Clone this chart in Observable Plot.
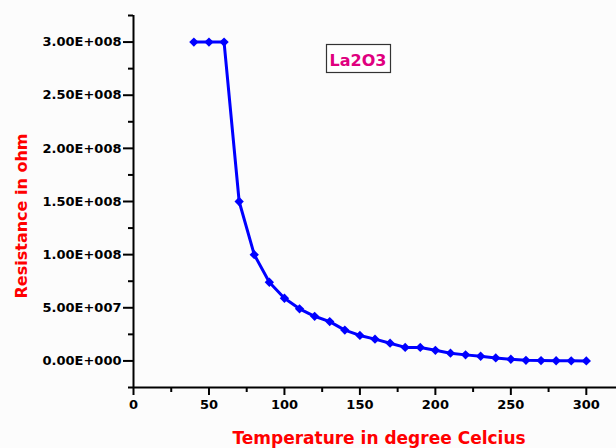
<!DOCTYPE html>
<html><head><meta charset="utf-8">
<script src="https://cdn.jsdelivr.net/npm/d3@7"></script>
<script src="https://cdn.jsdelivr.net/npm/@observablehq/plot@0.6"></script>
<style>
html,body{margin:0;padding:0;background:#fcfcfc;overflow:hidden}
</style>
</head><body><div id="chart"></div>
<script>
const temperature = [40,50,60,70,80,90,100,110,120,130,140,150,160,170,180,190,200,210,220,230,240,250,260,270,280,290,300];
const resistance = [3.0e8,3.0e8,3.0e8,1.5e8,1.0e8,7.4e7,5.9e7,4.9e7,4.2e7,3.7e7,2.9e7,2.4e7,2.05e7,1.67e7,1.27e7,1.27e7,1.0e7,7.3e6,5.7e6,4.4e6,2.8e6,1.6e6,6e5,3e5,2e5,1e5,0];
const xTicks = [0,50,100,150,200,250,300];
const xMinorTicks = [25,75,125,175,225,275];
const yTicks = [0,5e7,1e8,1.5e8,2e8,2.5e8,3e8];
const yMinorTicks = [-2.5e7,2.5e7,7.5e7,1.25e8,1.75e8,2.25e8,2.75e8,3.25e8];
const titleText = "La2O3";
const xLabel = "Temperature in degree Celcius";
const yLabel = "Resistance in ohm";

const data = temperature.map((t,i)=>({t, r: resistance[i]}));
const fmt = v => {
  if (v === 0) return "0.00E+000";
  const e = Math.floor(Math.log10(Math.abs(v)));
  const m = v / 10**e;
  return m.toFixed(2) + "E+" + String(e).padStart(3,"0");
};
const font = "'DejaVu Sans', Verdana, sans-serif";

const chart = Plot.plot({
  width: 616, height: 448,
  marginLeft: 133, marginRight: 0, marginTop: 15, marginBottom: 61,
  x: {domain: [0, 320], label: null},
  y: {domain: [-2.5e7, 3.25e8], label: null},
  style: {background: "transparent", fontFamily: font, fontSize: "13px", fontWeight: "bold", color: "#000"},
  marks: [
    Plot.axisX({ticks: xTicks, tickSize: 8, tickPadding: 4, tickFormat: d => String(d), label: null, strokeWidth: 2, fontWeight: "bold", fill: "#000"}),
    Plot.axisX({ticks: xMinorTicks, tickSize: 5, tickFormat: () => "", label: null, strokeWidth: 2}),
    Plot.axisY({ticks: yTicks, tickSize: 10, tickPadding: 2, tickFormat: fmt, label: null, strokeWidth: 2, fontWeight: "bold", fill: "#000"}),
    Plot.axisY({ticks: yMinorTicks, tickSize: 5, tickFormat: () => "", label: null, strokeWidth: 2}),
    Plot.ruleX([0], {stroke: "#000", strokeWidth: 2}),
    Plot.ruleY([-2.5e7], {stroke: "#000", strokeWidth: 2}),
    Plot.line(data, {x: "t", y: "r", stroke: "#0000ff", strokeWidth: 3}),
    Plot.dot(data, {x: "t", y: "r", symbol: "diamond2", r: 4.2, fill: "#0000ff", stroke: "none"})
  ]
});

const svg = d3.select(chart);
svg.append("text")
  .attr("x", 379).attr("y", 444)
  .attr("text-anchor", "middle")
  .attr("font-family", font).attr("font-weight", "bold").attr("font-size", "17px")
  .attr("fill", "#ff0000")
  .text(xLabel);
svg.append("text")
  .attr("transform", "translate(27,216) rotate(-90)")
  .attr("text-anchor", "middle")
  .attr("font-family", font).attr("font-weight", "bold").attr("font-size", "16px")
  .attr("fill", "#ff0000")
  .text(yLabel);
svg.append("rect")
  .attr("x", 326.5).attr("y", 44.5).attr("width", 64).attr("height", 28)
  .attr("fill", "#ffffff").attr("stroke", "#333").attr("stroke-width", 1.2);
svg.append("text")
  .attr("x", 358).attr("y", 65.5)
  .attr("text-anchor", "middle")
  .attr("font-family", font).attr("font-weight", "bold").attr("font-size", "16px")
  .attr("fill", "#e0007f")
  .text(titleText);

document.getElementById("chart").appendChild(chart);
</script>
</body></html>
